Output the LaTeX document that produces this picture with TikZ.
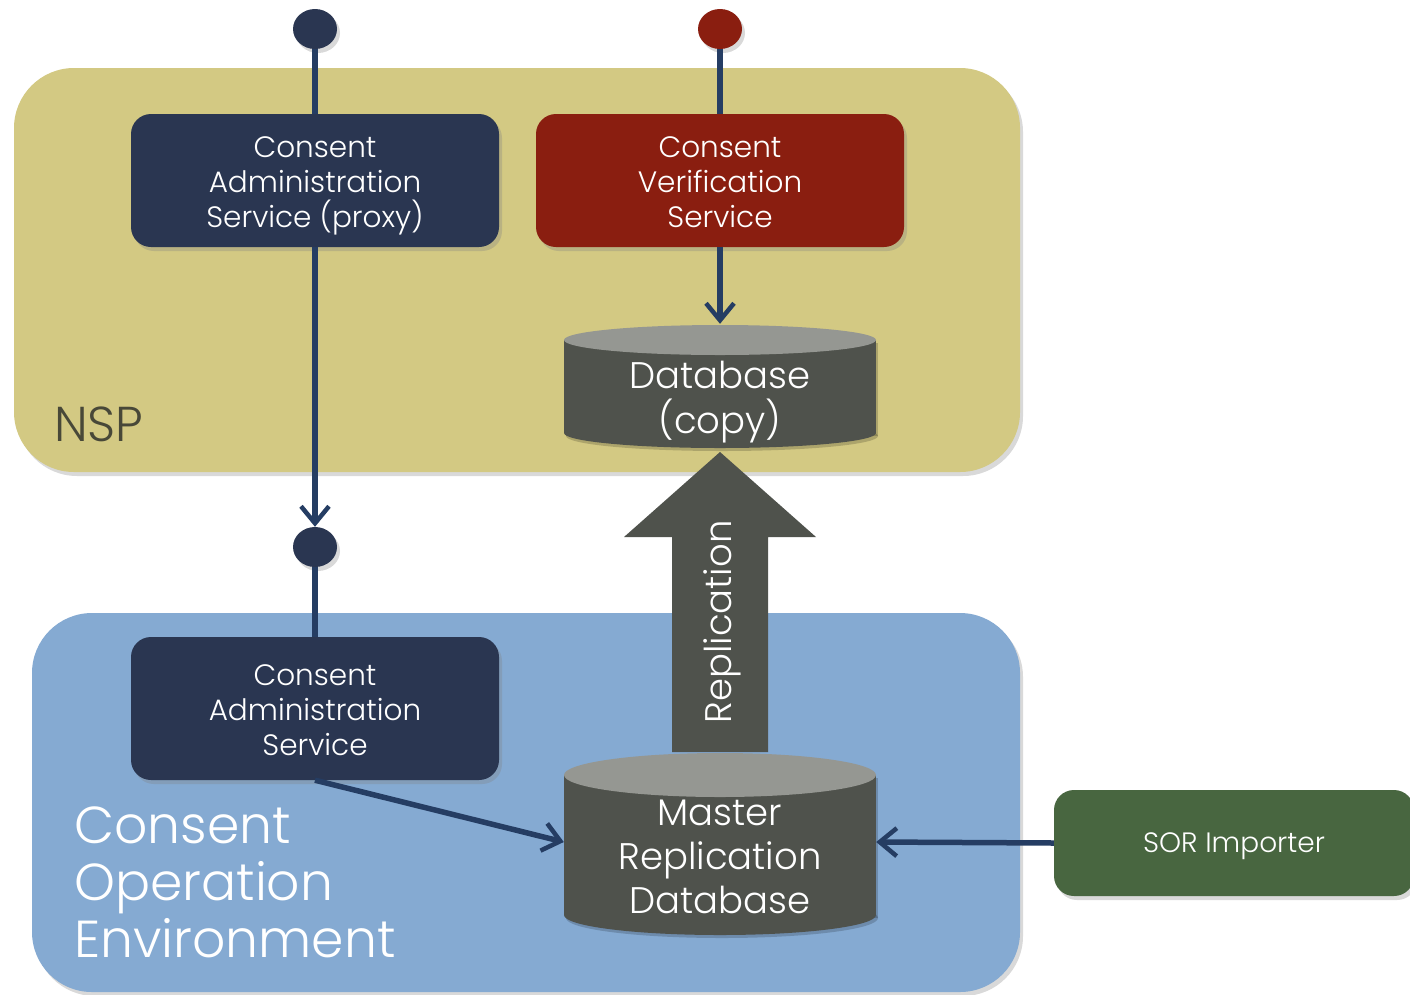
\documentclass[tikz,border=0pt]{standalone}
\usepackage{fontspec}
\IfFontExistsTF{Poppins Light}{\setmainfont{Poppins Light}}{\setmainfont{Poppins}}
\usetikzlibrary{arrows.meta,shadows,shapes.geometric}
\definecolor{nspc}{RGB}{211,201,131}
\definecolor{coec}{RGB}{133,170,210}
\definecolor{navy}{RGB}{42,54,81}
\definecolor{redc}{RGB}{138,30,16}
\definecolor{grn}{RGB}{72,102,64}
\definecolor{dbbody}{RGB}{79,82,76}
\definecolor{dbtop}{RGB}{149,151,146}
\definecolor{linec}{RGB}{37,61,99}
\definecolor{nsptext}{RGB}{72,72,56}
\begin{document}
\begin{tikzpicture}[x=1pt,y=-1pt,
  shad/.style={drop shadow={shadow xshift=3pt,shadow yshift=-4pt,opacity=0.3}},
  region/.style={rounded corners=60pt,shad,draw=none},
  svc/.style={rounded corners=20pt,minimum width=368pt,minimum height=133pt,shad,inner sep=0pt},
  svctext/.style={text=white,align=center,font=\fontsize{29.5}{35}\selectfont,inner sep=0pt},
  dot/.style={ellipse,minimum width=44pt,minimum height=40pt,inner sep=0pt,shad},
  conn/.style={draw=linec,line width=5.5pt},
  arr/.style={conn,-{Straight Barb[length=17pt,width=28pt,line width=4.5pt]}},
  dbtext/.style={text=white,align=center,font=\fontsize{37}{45}\selectfont,inner sep=0pt},
  anchorbox/.style={inner sep=0pt,draw=none}]
\useasboundingbox (0,0) rectangle (1410,994);
% regions
\node[region,fill=nspc,minimum width=1006pt,minimum height=404pt] (nsp) at (517,270) {};
\node[region,fill=coec,minimum width=988pt,minimum height=379pt] (coe) at (526,802.5) {};
\node[anchor=west,text=nsptext,font=\fontsize{49}{50}\selectfont,inner sep=0pt] (nsplabel) at (54,424) {NSP};
\node[anchor=west,text=white,align=left,font=\fontsize{52}{57}\selectfont,inner sep=0pt] (coelabel) at (74,882) {Consent\\Operation\\Environment};
% service boxes
\node[svc,fill=navy,label={[svctext,yshift=-5pt]center:{Consent\\Administration\\Service (proxy)}}] (cap) at (315,180.5) {};
\node[svc,fill=redc,label={[svctext,yshift=-2pt]center:{Consent\\Verification\\Service}}] (cvs) at (720,180.5) {};
\node[svc,fill=navy,minimum height=143pt,label={[svctext,yshift=-2pt]center:{Consent\\Administration\\Service}}] (cas) at (315,708.5) {};
\node[svc,fill=grn,minimum width=360pt,minimum height=106pt,label={[svctext,font=\fontsize{28}{35}\selectfont,yshift=-3pt]center:{SOR Importer}}] (sor) at (1234,843) {};
% dots
\node[dot,fill=navy] (d1) at (315,29) {};
\node[dot,fill=redc] (d2) at (720,29) {};
\node[dot,fill=navy] (d3) at (315,547) {};
% cylinders
\fill[black,opacity=0.18] (566,343) rectangle (878,436);
\fill[black,opacity=0.18] (722,436) ellipse [x radius=156,y radius=15];
\fill[dbbody] (564,340) rectangle (876,433);
\fill[dbbody] (720,433) ellipse [x radius=156,y radius=15];
\fill[dbtop] (720,340) ellipse [x radius=156,y radius=15];
\node[anchorbox,minimum width=312pt,minimum height=124pt] (dbc) at (720,386) {};
\node[dbtext] (dbctext) at (720,402) {Database\\(copy)};
\fill[black,opacity=0.18] (566,778) rectangle (878,918);
\fill[black,opacity=0.18] (722,918) ellipse [x radius=156,y radius=20];
\fill[dbbody] (564,775) rectangle (876,915);
\fill[dbbody] (720,915) ellipse [x radius=156,y radius=20];
\fill[dbtop] (720,775) ellipse [x radius=156,y radius=22];
\node[anchorbox,minimum width=312pt,minimum height=166pt] (master) at (720,842) {};
\node[dbtext,font=\fontsize{37}{44}\selectfont] (mastertext) at (720,857) {Master\\Replication\\Database};
% replication arrow
\fill[dbbody] (672,752) -- (672,537) -- (624,537) -- (720,452) -- (816,537) -- (768,537) -- (768,752) -- cycle;
\node[text=white,rotate=90,font=\fontsize{37}{44}\selectfont,inner sep=0pt] (repl) at (722,622) {Replication};
% connectors
\draw[conn] (d1.south) -- (cap.north);
\draw[conn] (d2.south) -- (cvs.north);
\draw[arr] (cap.south) -- (d3.north);
\draw[conn] (d3.south) -- (cas.north);
\draw[arr] (cvs.south) -- (dbc.north);
\draw[arr] (cas.south) -- (master.west);
\draw[arr] (sor.west) -- (master.east);
\end{tikzpicture}
\end{document}
